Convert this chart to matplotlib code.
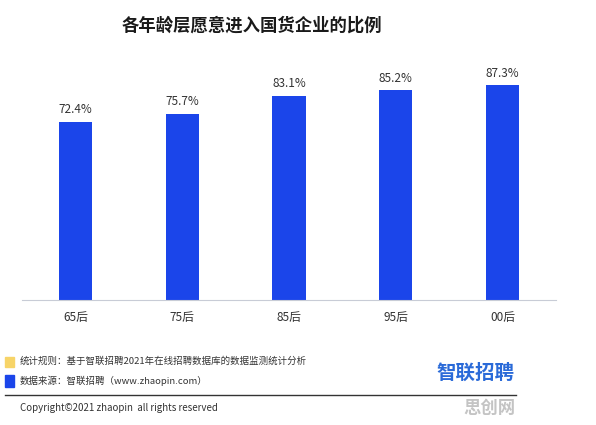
import matplotlib.pyplot as plt

plt.rcParams['font.family'] = ['Noto Sans CJK SC', 'DejaVu Sans']

# data
groups = ["65后", "75后", "85后", "95后", "00后"]
share = [72.4, 75.7, 83.1, 85.2, 87.3]
title = "各年龄层愿意进入国货企业的比例"
note_rule = "统计规则：基于智联招聘2021年在线招聘数据库的数据监测统计分析"
note_source = "数据来源：智联招聘（www.zhaopin.com）"
copyright_txt = "Copyright©2021 zhaopin  all rights reserved"

barColor = "#1b45ea"

fig = plt.figure(figsize=(5.96, 4.25), dpi=100)
ax = fig.add_axes([0.0369, 0.294, 0.896, 0.579])

xs = range(len(groups))
bars = ax.bar(xs, share, width=0.31, color=barColor)
for b, v in zip(bars, share):
    ax.text(b.get_x() + b.get_width() / 2, v + 2.2, f"{v}%",
            ha="center", va="bottom", fontsize=8.5, color="#333333")

ax.set_xlim(-0.5, len(groups) - 0.5)
ax.set_ylim(0, 100)
ax.set_xticks(list(xs))
ax.set_xticklabels(groups, fontsize=8.5, color="#333333")
ax.tick_params(axis="x", length=0, pad=8)
ax.set_yticks([])
for side in ["top", "right", "left"]:
    ax.spines[side].set_visible(False)
ax.spines["bottom"].set_color("#c8ccd6")

fig.text(252 / 596, 1 - 26 / 425, title, ha="center", va="center",
         fontsize=12.5, fontweight="bold", color="#1a1a1a")

# footer
fig.patches.append(plt.Rectangle((5 / 596, 1 - 367 / 425), 9 / 596, 10 / 425,
                                 transform=fig.transFigure, color="#f7d468"))
fig.patches.append(plt.Rectangle((5 / 596, 1 - 387 / 425), 9 / 596, 12 / 425,
                                 transform=fig.transFigure, color=barColor))
fig.text(20 / 596, 1 - 361 / 425, note_rule, ha="left", va="center",
         fontsize=6.8, color="#333333")
fig.text(20 / 596, 1 - 381 / 425, note_source, ha="left", va="center",
         fontsize=6.8, color="#333333")
fig.text(475 / 596, 1 - 373 / 425, "智联招聘", ha="center", va="center",
         fontsize=14, fontweight="bold", color="#2a6ad8")
fig.add_artist(plt.Line2D([5 / 596, 516 / 596], [1 - 395 / 425, 1 - 395 / 425],
                          transform=fig.transFigure, color="#333333", lw=1))
fig.text(20 / 596, 1 - 408 / 425, copyright_txt, ha="left", va="center",
         fontsize=7, color="#333333")
fig.text(489 / 596, 1 - 408 / 425, "思创网", ha="center", va="center",
         fontsize=12.5, fontweight="bold", color="#c4c4c4")

fig.savefig("out.png", dpi=100)
